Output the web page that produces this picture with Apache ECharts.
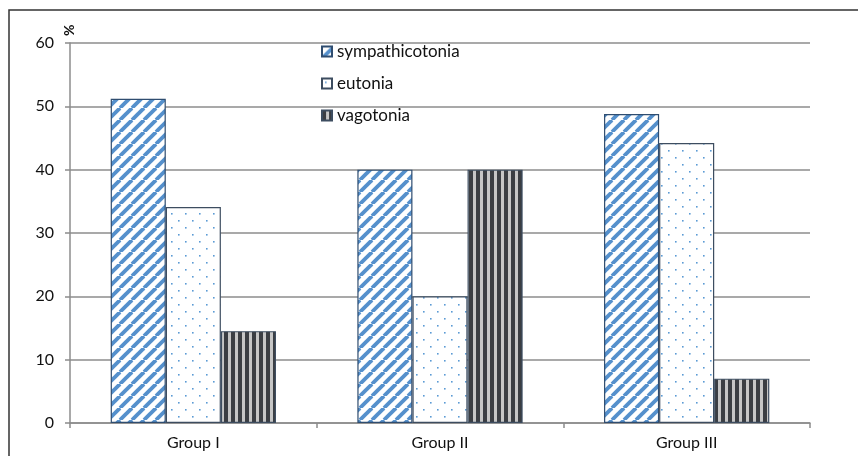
<!DOCTYPE html>
<html><head><meta charset="utf-8">
<script src="https://cdn.jsdelivr.net/npm/echarts@6/dist/echarts.min.js"></script>
<style>html,body{margin:0;padding:0;background:#fff}#c{width:858px;height:456px}</style>
</head><body><div id="c"></div>
<script>
const categories = ['Group I', 'Group II', 'Group III'];
const seriesNames = ['sympathicotonia', 'eutonia', 'vagotonia'];
const sympathicotonia = [51.2, 40, 48.8];
const eutonia = [34.1, 20, 44.2];
const vagotonia = [14.5, 40, 7.0];
const yTicks = [0, 10, 20, 30, 40, 50, 60];

function makeCanvas(w, h, draw) {
  const c = document.createElement('canvas');
  c.width = w; c.height = h;
  const ctx = c.getContext('2d');
  ctx.fillStyle = '#fff'; ctx.fillRect(0, 0, w, h);
  draw(ctx, w, h);
  return c;
}
const diag = makeCanvas(12, 12, (ctx, w, h) => {
  ctx.strokeStyle = '#5590cc'; ctx.lineWidth = 3.8;
  for (let k = -1; k <= 1; k++) {
    ctx.beginPath(); ctx.moveTo(k * w, h); ctx.lineTo(k * w + w, 0); ctx.stroke();
  }
});
const dots = makeCanvas(14, 14, (ctx) => {
  ctx.fillStyle = '#5b9bd5';
  ctx.fillRect(3, 3, 1.6, 1.6);
  ctx.fillRect(10, 10, 1.6, 1.6);
});
const vert = makeCanvas(7, 4, (ctx) => {
  ctx.fillStyle = '#c6c6c6'; ctx.fillRect(0, 0, 7, 4);
  ctx.fillStyle = '#3b3e43'; ctx.fillRect(0, 0, 4, 4);
});

const pats = [diag, dots, vert];
const borders = ['#2f4d70', '#3d4d60', '#3d4d60'];
const dataArr = [sympathicotonia, eutonia, vagotonia];

const chart = echarts.init(document.getElementById('c'));
const font = 'Lato, "Open Sans", sans-serif';
chart.setOption({
  animation: false,
  backgroundColor: '#fff',
  grid: { left: 70, right: 48, top: 43, bottom: 33 },
  legend: {
    orient: 'vertical', left: 316, top: 38,
    itemWidth: 10, itemHeight: 10, itemGap: 15,
    textStyle: { fontFamily: font, fontSize: 17, lineHeight: 17, color: '#111' },
    data: seriesNames.map(n => ({ name: n, icon: 'rect' }))
  },
  xAxis: {
    type: 'category', data: categories,
    axisLine: { lineStyle: { color: '#8c8c8c', width: 1.5 } },
    axisTick: { show: true, length: 5, lineStyle: { color: '#8c8c8c', width: 1.5 } },
    axisLabel: { fontFamily: font, fontSize: 16, color: '#111', margin: 12 }
  },
  yAxis: {
    type: 'value', min: 0, max: 60, interval: 10,
    axisLine: { show: true, lineStyle: { color: '#8c8c8c', width: 1.5 } },
    axisTick: { show: true, length: 5, lineStyle: { color: '#8c8c8c', width: 1.5 } },
    splitLine: { lineStyle: { color: '#8c8c8c', width: 1.5 } },
    axisLabel: { fontFamily: font, fontSize: 16, color: '#111', margin: 16,
      formatter: v => yTicks.includes(v) ? String(v) : '' }
  },
  graphic: [
    { type: 'rect', shape: { x: 9, y: 10, width: 900, height: 500 },
      style: { fill: 'none', stroke: '#333', lineWidth: 1.5 }, silent: true },
    { type: 'text', x: 62, y: 36, rotation: Math.PI / 2,
      style: { text: '%', font: 'bold 14px ' + font, fill: '#111' } }
  ],
  series: seriesNames.map((n, i) => ({
    name: n, type: 'bar', data: dataArr[i],
    barGap: '0%', barCategoryGap: '33%',
    itemStyle: { color: { image: pats[i], repeat: 'repeat' }, borderColor: borders[i], borderWidth: 1.2 }
  }))
});
</script></body></html>
